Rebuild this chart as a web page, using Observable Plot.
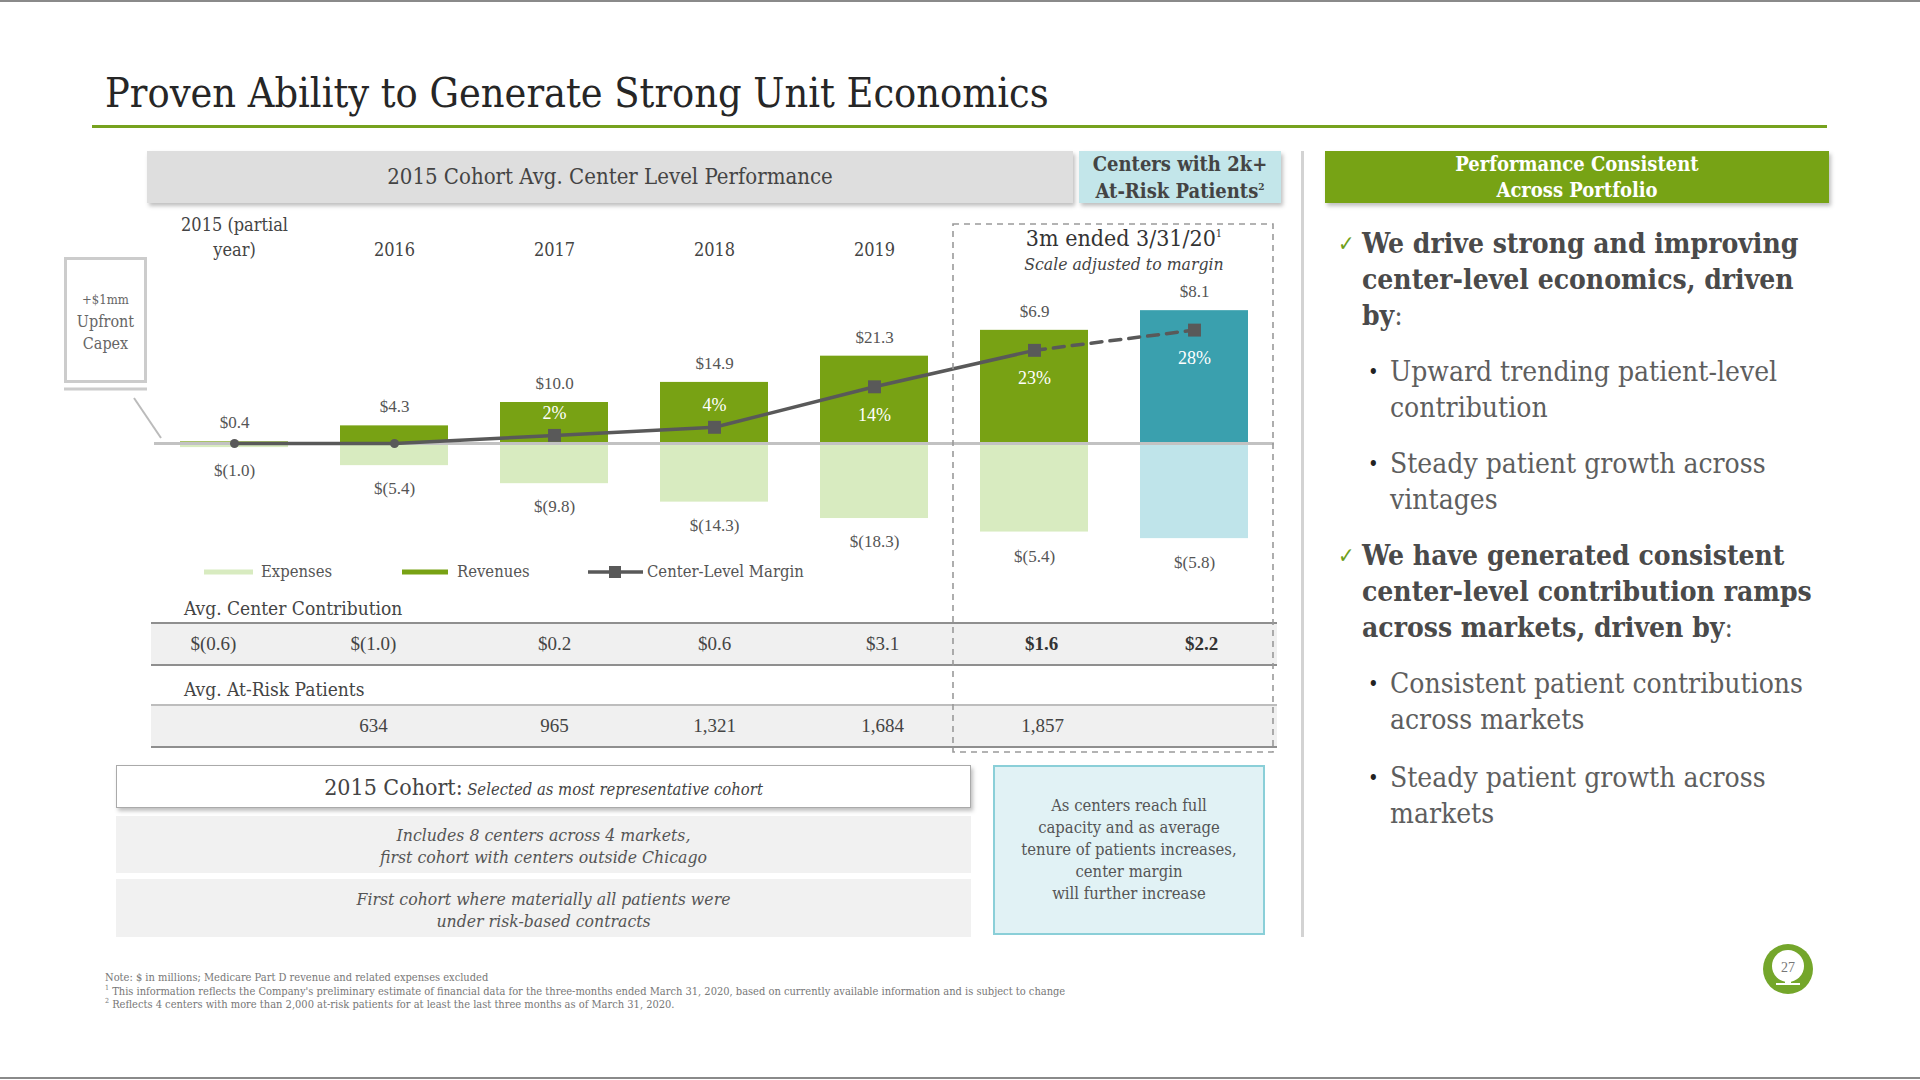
<!DOCTYPE html>
<html>
<head>
<meta charset="utf-8">
<script src="https://cdn.jsdelivr.net/npm/d3@7"></script>
<script src="https://cdn.jsdelivr.net/npm/@observablehq/plot@0.6"></script>
<style>
  html, body { margin: 0; padding: 0; background: #fff; }
  #slide { position: relative; width: 1920px; height: 1080px; overflow: hidden;
           font-family: "DejaVu Serif Condensed", "DejaVu Serif", serif; font-stretch: condensed;
           color: #444; background: #fff; }
  .abs { position: absolute; }
  sup { line-height: 0; }
  .check { font-family: "DejaVu Sans", sans-serif; color: #6f9f1c; font-weight: normal; }
</style>
</head>
<body>
<div id="slide"></div>
<script>
// ---------------- DATA ----------------
const columns = ["2015", "2016", "2017", "2018", "2019", "3m All 2015", "3m 2k+"];
const columnLabels = ["2015 (partial\nyear)", "2016", "2017", "2018", "2019", "", ""];

// 2015 cohort avg. center level performance ($ millions)
const cohortColumns = ["2015", "2016", "2017", "2018", "2019"];
const cohortRevenues = [0.4, 4.3, 10.0, 14.9, 21.3];
const cohortExpenses = [-1.0, -5.4, -9.8, -14.3, -18.3];

// 3m ended 3/31/20 (scale adjusted to margin)
const recentColumns = ["3m All 2015", "3m 2k+"];
const recentRevenues = [6.9, 8.1];
const recentExpenses = [-5.4, -5.8];

// Center-level margin (%), first two plotted on the zero line
const marginPct = [0, 0, 2, 4, 14, 23, 28];
const marginLabels = [null, null, "2%", "4%", "14%", "23%", "28%"];

// Table rows
const contribution = [-0.6, -1.0, 0.2, 0.6, 3.1, 1.6, 2.2];
const atRiskPatients = [null, 634, 965, 1321, 1684, 1857, null];

// ---------------- HELPERS ----------------
const slide = document.getElementById("slide");
function add(html, style) {
  const d = document.createElement("div");
  d.className = "abs";
  d.innerHTML = html;
  Object.assign(d.style, style);
  slide.appendChild(d);
  return d;
}
function place(el, left, top) {
  const d = document.createElement("div");
  d.className = "abs";
  d.style.left = left + "px";
  d.style.top = top + "px";
  d.appendChild(el);
  slide.appendChild(d);
}
const money = v => v < 0 ? `$(${Math.abs(v).toFixed(1)})` : `$${v.toFixed(1)}`;

const GREEN = "#78a214", LIGHT_GREEN = "#d8ebc0", TEAL = "#3aa0ae", LIGHT_TEAL = "#bfe4ea", LINE = "#595959";
const SERIF = "DejaVu Serif Condensed, DejaVu Serif, serif";
const NUM = "Liberation Serif, serif";

// ---------------- STATIC SLIDE FRAME ----------------
add("", {left: "0px", top: "0px", width: "1920px", height: "2px", background: "#8a8a8a"});
add("", {left: "0px", top: "1077px", width: "1920px", height: "2px", background: "#8a8a8a"});
add("Proven Ability to Generate Strong Unit Economics",
    {left: "105px", top: "73px", fontSize: "41px", lineHeight: "1", color: "#262626"});
add("", {left: "92px", top: "125px", width: "1735px", height: "3px", background: "#76a21e"});

// header boxes
add("2015 Cohort Avg. Center Level Performance",
    {left: "147px", top: "151px", width: "926px", height: "52px", lineHeight: "52px", background: "#dedede",
     boxShadow: "2px 3px 4px rgba(0,0,0,0.25)", textAlign: "center", fontSize: "22px", color: "#444"});
add("Centers with 2k+<br>At-Risk Patients<sup style='font-size:10px'>2</sup>",
    {left: "1079px", top: "151px", width: "202px", height: "52px", lineHeight: "27px", background: "#c3e6ea",
     boxShadow: "2px 3px 4px rgba(0,0,0,0.25)", textAlign: "center", fontSize: "20px", color: "#444", fontWeight: "bold"});
add("Performance Consistent<br>Across Portfolio",
    {left: "1325px", top: "151px", width: "504px", height: "52px", lineHeight: "26px", background: "#77a315",
     boxShadow: "2px 3px 4px rgba(0,0,0,0.25)", textAlign: "center", fontSize: "20px", color: "#fff", fontWeight: "bold"});
add("", {left: "1301px", top: "151px", width: "3px", height: "786px", background: "#d3d3d3"});

// callout
add("<div style='font-size:13px'>+$1mm</div><div>Upfront</div><div>Capex</div>",
    {left: "64px", top: "257px", width: "83px", height: "126px", border: "3px solid #cccccc", boxSizing: "border-box",
     textAlign: "center", fontSize: "16px", lineHeight: "22px", color: "#666", paddingTop: "29px"});
add(`<svg width="120" height="70"><line x1="0" y1="3" x2="83" y2="3" stroke="#cccccc" stroke-width="3"/>
     <line x1="70" y1="12" x2="97" y2="52" stroke="#bbbbbb" stroke-width="2"/></svg>`,
    {left: "64px", top: "386px"});

// 3m header
add("3m ended 3/31/20<sup style='font-size:11px'>1</sup>",
    {left: "984px", top: "225px", width: "280px", textAlign: "center", fontSize: "23px", lineHeight: "26px", color: "#333"});
add("<i>Scale adjusted to margin</i>",
    {left: "984px", top: "255px", width: "280px", textAlign: "center", fontSize: "17.5px", lineHeight: "18px", color: "#444"});

// legend
add(`<svg width="720" height="24" style="overflow:visible">
  <line x1="0" y1="12" x2="49" y2="12" stroke="${LIGHT_GREEN}" stroke-width="5"/>
  <text x="57" y="17" font-size="16.5" fill="#555" font-family="${SERIF}" font-stretch="condensed">Expenses</text>
  <line x1="198" y1="12" x2="244" y2="12" stroke="${GREEN}" stroke-width="5"/>
  <text x="253" y="17" font-size="16.5" fill="#555" font-family="${SERIF}" font-stretch="condensed">Revenues</text>
  <line x1="384" y1="12" x2="439" y2="12" stroke="${LINE}" stroke-width="3.5"/>
  <rect x="405" y="6" width="12" height="12" fill="${LINE}"/>
  <text x="443" y="17" font-size="16.5" fill="#555" font-family="${SERIF}" font-stretch="condensed">Center-Level Margin</text>
</svg>`, {left: "204px", top: "560px"});

// table decorations
add("Avg. Center Contribution", {left: "184px", top: "597px", fontSize: "19px", lineHeight: "22px", color: "#444"});
add("", {left: "151px", top: "622px", width: "1126px", height: "40px", background: "#f0f0f0",
         borderTop: "2px solid #8f8f8f", borderBottom: "2px solid #8f8f8f"});
add("Avg. At-Risk Patients", {left: "184px", top: "678px", fontSize: "19px", lineHeight: "22px", color: "#444"});
add("", {left: "151px", top: "704px", width: "1126px", height: "40px", background: "#f0f0f0",
         borderTop: "2px solid #bdbdbd", borderBottom: "2px solid #8f8f8f"});

// bottom boxes
add("<span style='font-size:23px'>2015 Cohort:</span> <i style='font-size:16.5px'>Selected as most representative cohort</i>",
    {left: "116px", top: "765px", width: "855px", height: "43px", lineHeight: "42px", border: "1.5px solid #aaa",
     boxSizing: "border-box", background: "#fff", boxShadow: "2px 3px 4px rgba(0,0,0,0.25)", textAlign: "center", color: "#444"});
add("<i>Includes 8 centers across 4 markets,<br>first cohort with centers outside Chicago</i>",
    {left: "116px", top: "816px", width: "855px", height: "57px", background: "#f1f1f1", textAlign: "center",
     fontSize: "17.5px", lineHeight: "22px", paddingTop: "8px", boxSizing: "border-box", color: "#555"});
add("<i>First cohort where materially all patients  were<br>under risk-based contracts</i>",
    {left: "116px", top: "879px", width: "855px", height: "58px", background: "#f1f1f1", textAlign: "center",
     fontSize: "17.5px", lineHeight: "22px", paddingTop: "9px", boxSizing: "border-box", color: "#555"});
add("As centers reach full<br>capacity and as average<br>tenure of patients increases,<br>center margin<br>will further increase",
    {left: "993px", top: "765px", width: "272px", height: "170px", background: "#e1f2f5", border: "2px solid #8acfd8",
     boxSizing: "border-box", textAlign: "center", fontSize: "16.5px", lineHeight: "22px", paddingTop: "28px", color: "#555"});

// right panel text
const P = {fontSize: "28px", lineHeight: "36px"};
const bold = "font-weight:bold;color:#4a4a4a";
const reg = "color:#5e5e5e";
add(`<span class="check" style="position:absolute;left:-24px;top:0;font-size:22px">✓</span><span style="${bold}">We drive strong and improving<br>center-level economics, driven<br>by</span><span style="${reg}">:</span>`,
    {left: "1362px", top: "226px", width: "520px", ...P});
add(`<span style="position:absolute;left:-22px;top:0;color:#222;font-size:20px">•</span><span style="${reg}">Upward trending patient-level<br>contribution</span>`,
    {left: "1390px", top: "354px", width: "520px", ...P});
add(`<span style="position:absolute;left:-22px;top:0;color:#222;font-size:20px">•</span><span style="${reg}">Steady patient growth across<br>vintages</span>`,
    {left: "1390px", top: "446px", width: "520px", ...P});
add(`<span class="check" style="position:absolute;left:-24px;top:0;font-size:22px">✓</span><span style="${bold}">We have generated consistent<br>center-level contribution ramps<br>across markets, driven by</span><span style="${reg}">:</span>`,
    {left: "1362px", top: "538px", width: "540px", ...P});
add(`<span style="position:absolute;left:-22px;top:0;color:#222;font-size:20px">•</span><span style="${reg}">Consistent patient contributions<br>across markets</span>`,
    {left: "1390px", top: "666px", width: "520px", ...P});
add(`<span style="position:absolute;left:-22px;top:0;color:#222;font-size:20px">•</span><span style="${reg}">Steady patient growth across<br>markets</span>`,
    {left: "1390px", top: "760px", width: "520px", ...P});

// footnotes
add("Note: $ in millions; Medicare Part D revenue and related expenses excluded<br>" +
    "<sup style='font-size:7px'>1</sup> This information reflects the Company's preliminary estimate of financial data for the three-months ended March 31, 2020, based on currently available information and is subject to change<br>" +
    "<sup style='font-size:7px'>2</sup> Reflects 4 centers with more than 2,000 at-risk patients for at least the last three months as of March 31, 2020.",
    {left: "105px", top: "971px", fontSize: "11px", lineHeight: "13.5px", color: "#777", whiteSpace: "nowrap"});

// page logo
add(`<svg width="56" height="56"><circle cx="28" cy="28" r="25" fill="#74a62b"/>
  <circle cx="28" cy="25" r="16" fill="#fff"/><rect x="25" y="30" width="6" height="14" fill="#fff"/>
  <rect x="16" y="42" width="24" height="2" fill="#fff"/>
  <text x="28" y="31" text-anchor="middle" font-size="14" fill="#777" font-family="Liberation Serif">27</text></svg>`,
  {left: "1760px", top: "941px"});

// ---------------- CHARTS (Observable Plot) ----------------
const W = 1300, H = 380, TOP = 200;
const xScale = {domain: columns, paddingInner: 0.325, paddingOuter: 0.1625};
const common = {width: W, height: H, marginTop: 60, marginBottom: 0, marginLeft: 154, marginRight: 26,
  style: {fontFamily: NUM, fontSize: "17px", background: "transparent", overflow: "visible"}};

const cohort = cohortColumns.map((c, i) => ({col: c, rev: cohortRevenues[i], exp: cohortExpenses[i]}));
const recent = recentColumns.map((c, i) => ({col: c, rev: recentRevenues[i], exp: recentExpenses[i], i}));
const margin = columns.map((c, i) => ({col: c, m: marginPct[i], label: marginLabels[i]}));

// cohort bars ($M)
const cohortPlot = Plot.plot({
  ...common,
  x: {...xScale, axis: null},
  y: {domain: [-137 / 4.1, 183 / 4.1], axis: null},
  marks: [
    Plot.axisX({anchor: "top", tickSize: 0, tickPadding: 5, label: null, fontSize: 18, fill: "#444",
                fontFamily: SERIF, lineHeight: 1.38, tickFormat: d => columnLabels[columns.indexOf(d)]}),
    Plot.barY(cohort, {x: "col", y: "exp", fill: LIGHT_GREEN}),
    Plot.barY(cohort, {x: "col", y: "rev", fill: GREEN}),
    Plot.text(cohort, {x: "col", y: "rev", text: d => money(d.rev), dy: -19, fill: "#555", fontSize: 17}),
    Plot.text(cohort, {x: "col", y: "exp", text: d => money(d.exp), dy: 23, fill: "#555", fontSize: 17})
  ]
});
place(cohortPlot, 0, TOP);

// 3m bars (scale adjusted)
const recentPlot = Plot.plot({
  ...common,
  x: {...xScale, axis: null},
  y: {domain: [-137 / 16.4, 183 / 16.4], axis: null},
  color: {type: "identity"},
  marks: [
    Plot.barY(recent, {x: "col", y: "exp", fill: d => d.i === 0 ? LIGHT_GREEN : LIGHT_TEAL}),
    Plot.barY(recent, {x: "col", y: "rev", fill: d => d.i === 0 ? GREEN : TEAL}),
    Plot.text(recent, {x: "col", y: "rev", text: d => money(d.rev), dy: -19, fill: "#555", fontSize: 17}),
    Plot.text(recent, {x: "col", y: "exp", text: d => money(d.exp), dy: 24, fill: "#555", fontSize: 17})
  ]
});
place(recentPlot, 0, TOP);

// margin line (%)
const big = margin.filter(d => d.label && d.m >= 10);
const small = margin.filter(d => d.label && d.m < 10);
const marginPlot = Plot.plot({
  ...common,
  x: {...xScale, axis: null},
  y: {domain: [-137 / 4.05, 183 / 4.05], axis: null},
  marks: [
    Plot.ruleY([0], {stroke: "#c2c2c2", strokeWidth: 3}),
    Plot.line(margin.slice(0, 6), {x: "col", y: "m", stroke: LINE, strokeWidth: 3.5}),
    Plot.line(margin.slice(5), {x: "col", y: "m", stroke: LINE, strokeWidth: 3.5, strokeDasharray: "11,8"}),
    Plot.dot(margin.filter(d => !d.label), {x: "col", y: "m", r: 4.5, fill: LINE}),
    Plot.dot(margin.filter(d => d.label), {x: "col", y: "m", symbol: "square", r: 7.3, fill: LINE}),
    Plot.text(small, {x: "col", y: "m", text: "label", dy: -22, fill: "#fff", fontSize: 18}),
    Plot.text(big, {x: "col", y: "m", text: "label", dy: 28, fill: "#fff", fontSize: 18})
  ]
});
place(marginPlot, 0, TOP);

// table values
const tableRows = ["contribution", "patients"];
const tableCells = columns.flatMap((c, i) => [
  {col: c, idx: i, row: "contribution", text: money(contribution[i]), strong: i >= 5},
  {col: c, idx: i, row: "patients", text: atRiskPatients[i] == null ? "" : d3.format(",")(atRiskPatients[i]), strong: false}
]);
const cellOpts = {x: "col", y: "row", text: "text", fontSize: 19};
const tablePlot = Plot.plot({
  ...common, height: 160, marginTop: 0,
  x: {...xScale, axis: null},
  y: {type: "point", domain: tableRows, range: [43, 125], padding: 0, axis: null},
  marks: [
    Plot.text(tableCells.filter(d => d.idx < 2), {...cellOpts, fill: "#444", dx: -21}),
    Plot.text(tableCells.filter(d => d.idx >= 2 && d.idx < 4), {...cellOpts, fill: "#444"}),
    Plot.text(tableCells.filter(d => d.idx >= 4 && !d.strong), {...cellOpts, fill: "#444", dx: 8}),
    Plot.text(tableCells.filter(d => d.strong), {...cellOpts, fill: "#333", fontWeight: "bold", dx: 7})
  ]
});
place(tablePlot, 0, 600);

// dashed box around the 3m section
add(`<svg width="330" height="540"><rect x="1" y="1" width="320" height="528" fill="none" stroke="#9a9a9a"
      stroke-width="1.6" stroke-dasharray="6,5"/></svg>`, {left: "952px", top: "223px"});
</script>
</body>
</html>
